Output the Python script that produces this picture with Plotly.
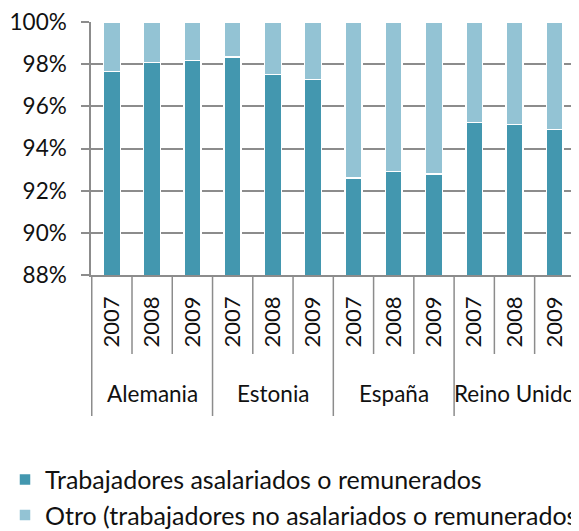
import plotly.graph_objects as go

countries = ["Alemania", "Estonia", "España", "Reino Unido"]
years = ["2007", "2008", "2009"]
paid = [97.66, 98.09, 98.17, 98.34, 97.50, 97.27, 92.60, 92.90, 92.80, 95.23, 95.14, 94.90]
other = [2.34, 1.91, 1.83, 1.66, 2.50, 2.73, 7.40, 7.10, 7.20, 4.77, 4.86, 5.10]
series_names = ["Trabajadores asalariados o remunerados",
                "Otro (trabajadores no asalariados o remunerados)"]
y_ticks = [88, 90, 92, 94, 96, 98, 100]
y_tick_labels = ["88%", "90%", "92%", "94%", "96%", "98%", "100%"]

cats = [f"{c}|{y}" for c in countries for y in years]
year_labels = [y for c in countries for y in years]

DARK = "#4397AF"
LIGHT = "#93C3D4"
GRID = "#8C8C8C"
FONT = "Lato"

# page offset compensation (browser body margin 8px)
ML, MT = 83, 14
PLOT_W, PLOT_H = 486, 253
FIG_W, FIG_H = 579, 531

fig = go.Figure()
fig.add_trace(go.Bar(x=cats, y=paid, name=series_names[0], marker_color=DARK,
                     marker_line=dict(color="white", width=1.5), width=0.42))
fig.add_trace(go.Bar(x=cats, y=other, name=series_names[1], marker_color=LIGHT,
                     marker_line=dict(color="white", width=1.5), width=0.42))

shapes = []
n = len(cats)
for i in range(n + 1):
    long_line = (i % len(years) == 0)
    depth = 141 if long_line else 79
    shapes.append(dict(type="line", xref="x", yref="paper",
                       x0=i - 0.5, x1=i - 0.5, y0=0, y1=-depth / PLOT_H,
                       line=dict(color=GRID, width=1.5)))

annotations = []
for k, c in enumerate(countries):
    annotations.append(dict(x=k * len(years) + 1, xref="x", y=-118.5 / PLOT_H,
                            yref="paper", text=c, showarrow=False,
                            xanchor="center", yanchor="middle",
                            font=dict(family=FONT, size=22.5, color="#111111")))

fig.update_layout(
    width=FIG_W, height=FIG_H,
    margin=dict(l=ML, r=FIG_W - ML - PLOT_W, t=MT, b=FIG_H - MT - PLOT_H, autoexpand=False),
    barmode="stack",
    plot_bgcolor="white", paper_bgcolor="white",
    font=dict(family=FONT, color="#111111"),
    showlegend=True,
    legend=dict(x=(-3 - ML) / PLOT_W, xanchor="left", y=-181.8 / PLOT_H, yanchor="top",
                font=dict(family=FONT, size=25, color="#111111"),
                traceorder="normal", bgcolor="rgba(0,0,0,0)"),
    shapes=shapes,
    annotations=annotations,
)
fig.update_yaxes(range=[88, 100.001], tickvals=y_ticks, ticktext=y_tick_labels,
                 showgrid=True, gridcolor=GRID, gridwidth=1.5,
                 showline=True, linecolor=GRID, linewidth=1.5,
                 ticks="outside", ticklen=8, tickcolor=GRID, tickwidth=1.5,
                 ticklabeloverflow="allow", ticklabelstandoff=10,
                 tickfont=dict(family=FONT, size=22.5, color="#111111"), zeroline=False)
fig.update_xaxes(type="category", tickvals=cats, ticktext=year_labels, tickangle=-90,
                 showline=True, linecolor=GRID, linewidth=1.5, ticks="",
                 ticklabelstandoff=11,
                 tickfont=dict(family=FONT, size=22, color="#111111"))

fig.write_html("out.html")
